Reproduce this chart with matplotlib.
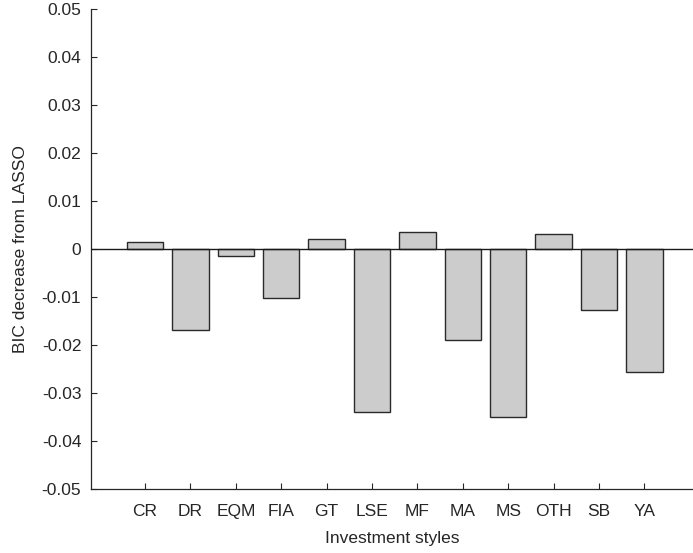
import matplotlib
matplotlib.use("Agg")
import matplotlib.pyplot as plt

categories = ["CR", "DR", "EQM", "FIA", "GT", "LSE", "MF", "MA", "MS", "OTH", "SB", "YA"]
values = [0.0014, -0.0170, -0.0014, -0.0103, 0.0020, -0.0341, 0.0036, -0.0190, -0.0350, 0.0032, -0.0127, -0.0257]
yticks = [-0.05, -0.04, -0.03, -0.02, -0.01, 0, 0.01, 0.02, 0.03, 0.04, 0.05]
ytick_labels = ["-0.05", "-0.04", "-0.03", "-0.02", "-0.01", "0", "0.01", "0.02", "0.03", "0.04", "0.05"]

plt.rcParams['font.family'] = ['Liberation Sans', 'DejaVu Sans']

fig = plt.figure(figsize=(6.93, 5.53), dpi=100)
ax = fig.add_axes([91/693, 1 - 488.7/553, 1 - 91/693, (488.7 - 9.3)/553])

x = list(range(1, len(categories) + 1))
ax.bar(x, values, width=0.8, color="#cccccc", edgecolor="#2a2a2a", linewidth=1.0, zorder=2)
ax.axhline(0, color="#1a1a1a", linewidth=1.0, zorder=3)

ax.set_xlim(-0.19, 13.07)
ax.set_ylim(-0.05, 0.05)
ax.set_xticks(x)
ax.set_xticklabels(categories)
ax.set_yticks(yticks)
ax.set_yticklabels(ytick_labels)

for s in ["top", "right"]:
    ax.spines[s].set_visible(False)
for s in ["left", "bottom"]:
    ax.spines[s].set_color("#262626")
    ax.spines[s].set_linewidth(0.9)

ax.tick_params(direction="in", length=4, width=0.8, colors="#262626", labelsize=12.5)
ax.tick_params(axis="x", pad=11)
ax.tick_params(axis="y", pad=7)
ax.set_xlabel("Investment styles", fontsize=12.5, color="#262626", labelpad=9)
ax.set_ylabel("BIC decrease from LASSO", fontsize=12.5, color="#262626", labelpad=10)

fig.savefig("out.png", dpi=100)
